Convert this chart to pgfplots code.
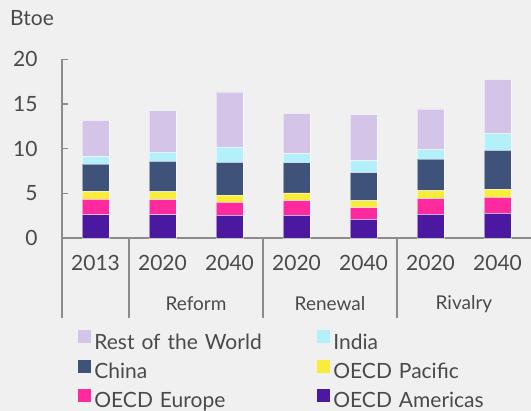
\documentclass[border=0pt]{standalone}
\usepackage{fontspec}
\setmainfont{Lato}
\usepackage{pgfplots}
\usepackage{pgfplotstable}
\pgfplotsset{compat=1.18}
\definecolor{bg}{HTML}{F0F0F0}
\definecolor{txt}{HTML}{4A4A4A}
\definecolor{axg}{HTML}{8C8C8C}
\definecolor{cam}{HTML}{4B19A0}
\definecolor{ceu}{HTML}{FF2A9E}
\definecolor{cpa}{HTML}{F7ED3A}
\definecolor{ccn}{HTML}{3E527A}
\definecolor{cin}{HTML}{B3F0FA}
\definecolor{crw}{HTML}{D4C5E8}
\pgfplotstableread{
x am eu pac cn in row
0 2.61 1.72 0.89 3.06 0.82 4.07
1 2.61 1.68 0.90 3.39 1.05 4.62
2 2.54 1.45 0.82 3.66 1.72 6.15
3 2.54 1.64 0.86 3.39 1.01 4.52
4 2.09 1.31 0.78 3.13 1.35 5.15
5 2.65 1.75 0.90 3.54 1.09 4.51
6 2.76 1.79 0.90 4.36 1.91 6.04
}\data
\begin{document}
\begin{tikzpicture}[font=\fontsize{21}{24}\selectfont, text=txt]
\useasboundingbox (0pt,0pt) rectangle (531pt,411pt);
\fill[bg] (0pt,0pt) rectangle (531pt,411pt);
\node[anchor=base west, inner sep=0pt] at (10pt,385pt) {Btoe};
\begin{axis}[
  at={(62pt,173pt)}, anchor=south west,
  scale only axis, width=469pt, height=178.7pt,
  xmin=-0.5, xmax=6.5, ymin=0, ymax=20,
  axis x line*=bottom, axis y line*=left,
  axis line style={axg, line width=1.3pt, -},
  ytick={0,5,10,15,20}, ytick pos=left,
  ytick style={draw=none}, xtick style={draw=none},
  xtick={0,...,6},
  xticklabels={2013,2020,2040,2020,2040,2020,2040},
  tick label style={font=\fontsize{21}{24}\selectfont, text=txt},
  /pgf/number format/assume math mode=true,
  yticklabel style={xshift=-21pt},
  xticklabel style={yshift=-14pt},
  ybar stacked, bar width=0.4,
  legend columns=2, reverse legend,
  legend cell align=left,
  legend style={at={(0.028,-0.505)}, anchor=north west, draw=none, fill=none,
    font=\fontsize{21}{24}\selectfont, text=txt,
    nodes={text width=220pt, inner xsep=3pt}, row sep=6.8pt},
  legend image code/.code={\fill[#1,draw=none] (0pt,-1pt) rectangle (13pt,12pt);},
  clip=false,
]
\addplot[fill=cam, draw=white, draw opacity=0.5, line width=0.4pt] table[x=x,y=am]{\data};
\addlegendentry{OECD Americas}
\addplot[fill=ceu, draw=white, draw opacity=0.5, line width=0.4pt] table[x=x,y=eu]{\data};
\addlegendentry{OECD Europe}
\addplot[fill=cpa, draw=white, draw opacity=0.5, line width=0.4pt] table[x=x,y=pac]{\data};
\addlegendentry{OECD Pacific}
\addplot[fill=ccn, draw=white, draw opacity=0.5, line width=0.4pt] table[x=x,y=cn]{\data};
\addlegendentry{China}
\addplot[fill=cin, draw=white, draw opacity=0.5, line width=0.4pt] table[x=x,y=in]{\data};
\addlegendentry{India}
\addplot[fill=crw, draw=white, draw opacity=0.5, line width=0.4pt] table[x=x,y=row]{\data};
\addlegendentry{Rest of the World}
\draw[axg, line width=1.3pt] (axis cs:-0.5,20) -- (axis cs:-0.5,0) -- ++(0pt,-80pt);
\draw[axg, line width=1.3pt] (axis cs:-0.5,0) -- (axis cs:6.5,0);
\draw[axg, line width=1.3pt] (axis cs:0.5,0) -- ++(0pt,-80pt);
\draw[axg, line width=1.3pt] (axis cs:2.5,0) -- ++(0pt,-80pt);
\draw[axg, line width=1.3pt] (axis cs:4.5,0) -- ++(0pt,-80pt);
\draw[axg, line width=1.3pt] (axis cs:-0.5,5) -- ++(6pt,0pt);
\draw[axg, line width=1.3pt] (axis cs:-0.5,10) -- ++(6pt,0pt);
\draw[axg, line width=1.3pt] (axis cs:-0.5,15) -- ++(6pt,0pt);
\draw[axg, line width=1.3pt] (axis cs:-0.5,20) -- ++(6pt,0pt);
\node[text=txt, font=\fontsize{19}{22}\selectfont] at (axis cs:1.5,0) [yshift=-66pt] {Reform};
\node[text=txt, font=\fontsize{19}{22}\selectfont] at (axis cs:3.5,0) [yshift=-66pt] {Renewal};
\node[text=txt, font=\fontsize{19}{22}\selectfont] at (axis cs:5.5,0) [yshift=-66pt] {Rivalry};
\end{axis}
\end{tikzpicture}
\end{document}
